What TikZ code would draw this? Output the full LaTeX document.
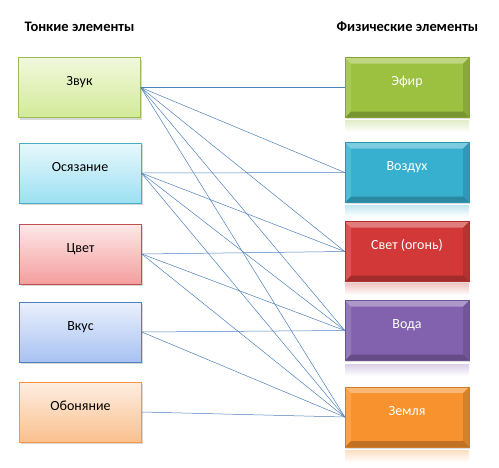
\documentclass[tikz,border=0pt]{standalone}
\usepackage{fontspec}
\setmainfont{Carlito}
\usetikzlibrary{shadows}
\definecolor{lnk}{HTML}{4F81BD}
\definecolor{gB}{HTML}{9BBB59}\definecolor{gT}{HTML}{F2F8DC}\definecolor{gD}{HTML}{D2EA98}
\definecolor{cB}{HTML}{4BACC6}\definecolor{cT}{HTML}{E8F8FC}\definecolor{cD}{HTML}{9CE0F2}
\definecolor{rB}{HTML}{C0504D}\definecolor{rT}{HTML}{FDE8E8}\definecolor{rD}{HTML}{F49E9E}
\definecolor{bB}{HTML}{4F81BD}\definecolor{bT}{HTML}{EAF0FC}\definecolor{bD}{HTML}{A8C2F2}
\definecolor{oB}{HTML}{F79646}\definecolor{oT}{HTML}{FDEEE2}\definecolor{oD}{HTML}{FAC08E}
\definecolor{fG}{HTML}{9CC040}
\definecolor{fC}{HTML}{36B0CE}
\definecolor{fR}{HTML}{D23838}
\definecolor{fP}{HTML}{8262AE}
\definecolor{fO}{HTML}{F7922E}
\tikzset{
  hdr/.style={font=\bfseries\fontsize{14.5}{16}\selectfont},
  leftbox/.style={draw=#1B, line width=0.6pt, top color=#1T, bottom color=#1D,
    minimum width=122pt, minimum height=60pt, inner sep=0pt,
    text height=9pt, text depth=13pt, font=\fontsize{14}{16}\selectfont,
    drop shadow={shadow xshift=1.5pt, shadow yshift=-2pt, opacity=0.3}},
  bevelbox/.style={fill=#1, draw=#1!85!black, line width=0.4pt,
    minimum width=124pt, minimum height=60pt, inner sep=0pt, text=white,
    text height=9pt, text depth=13pt, font=\fontsize{14}{16}\selectfont,
    drop shadow={shadow xshift=1pt, shadow yshift=-1.5pt, opacity=0.25},
    path picture={
      \fill[white,opacity=0.35] (path picture bounding box.north west) -- (path picture bounding box.north east)
        -- ([xshift=-6pt,yshift=-6pt]path picture bounding box.north east) -- ([xshift=6pt,yshift=-6pt]path picture bounding box.north west) -- cycle;
      \fill[white,opacity=0.15] (path picture bounding box.north west) -- ([xshift=6pt,yshift=-6pt]path picture bounding box.north west)
        -- ([xshift=6pt,yshift=6pt]path picture bounding box.south west) -- (path picture bounding box.south west) -- cycle;
      \fill[black,opacity=0.12] (path picture bounding box.north east) -- ([xshift=-6pt,yshift=-6pt]path picture bounding box.north east)
        -- ([xshift=-6pt,yshift=6pt]path picture bounding box.south east) -- (path picture bounding box.south east) -- cycle;
      \fill[black,opacity=0.22] (path picture bounding box.south west) -- ([xshift=6pt,yshift=6pt]path picture bounding box.south west)
        -- ([xshift=-6pt,yshift=6pt]path picture bounding box.south east) -- (path picture bounding box.south east) -- cycle;
    }},
  refl/.style={top color=#1!30!white, bottom color=white, draw=none},
  lnk/.style={draw=lnk, line width=0.5pt}
}
\begin{document}
\begin{tikzpicture}[x=1pt,y=-1pt]
\useasboundingbox[fill=white] (0,0) rectangle (499,467);
\node[hdr] (h1) at (79.5,27) {Тонкие элементы};
\node[hdr] (h2) at (407.5,27) {Физические элементы};
% left boxes
\node[leftbox=g] (zv) at (79.5,87.5) {Звук};
\node[leftbox=c] (os) at (80,173) {Осязание};
\node[leftbox=r] (cv) at (80.5,254) {Цвет};
\node[leftbox=b] (vk) at (80.5,332) {Вкус};
\node[leftbox=o] (ob) at (80.5,412) {Обоняние};
% reflections
\fill[refl=fG] (345,120) rectangle (469,132);
\fill[refl=fC] (345,205) rectangle (469,217);
\fill[refl=fR] (345,283) rectangle (469,295);
\fill[refl=fP] (345,364) rectangle (469,376);
\fill[refl=fO] (345,450) rectangle (469,462);
% right boxes
\node[bevelbox=fG] (ef) at (407,87.5) {Эфир};
\node[bevelbox=fC] (vz) at (407,172.5) {Воздух};
\node[bevelbox=fR] (sv) at (407,251.5) {Свет (огонь)};
\node[bevelbox=fP] (vd) at (407,330.5) {Вода};
\node[bevelbox=fO] (zm) at (407,417) {Земля};
% links
\foreach \t in {ef,vz,sv,vd,zm} \draw[lnk] (zv.east) -- (\t.west);
\foreach \t in {vz,sv,vd,zm} \draw[lnk] (os.east) -- (\t.west);
\foreach \t in {sv,vd,zm} \draw[lnk] (cv.east) -- (\t.west);
\foreach \t in {vd,zm} \draw[lnk] (vk.east) -- (\t.west);
\draw[lnk] (ob.east) -- (zm.west);
\end{tikzpicture}
\end{document}
